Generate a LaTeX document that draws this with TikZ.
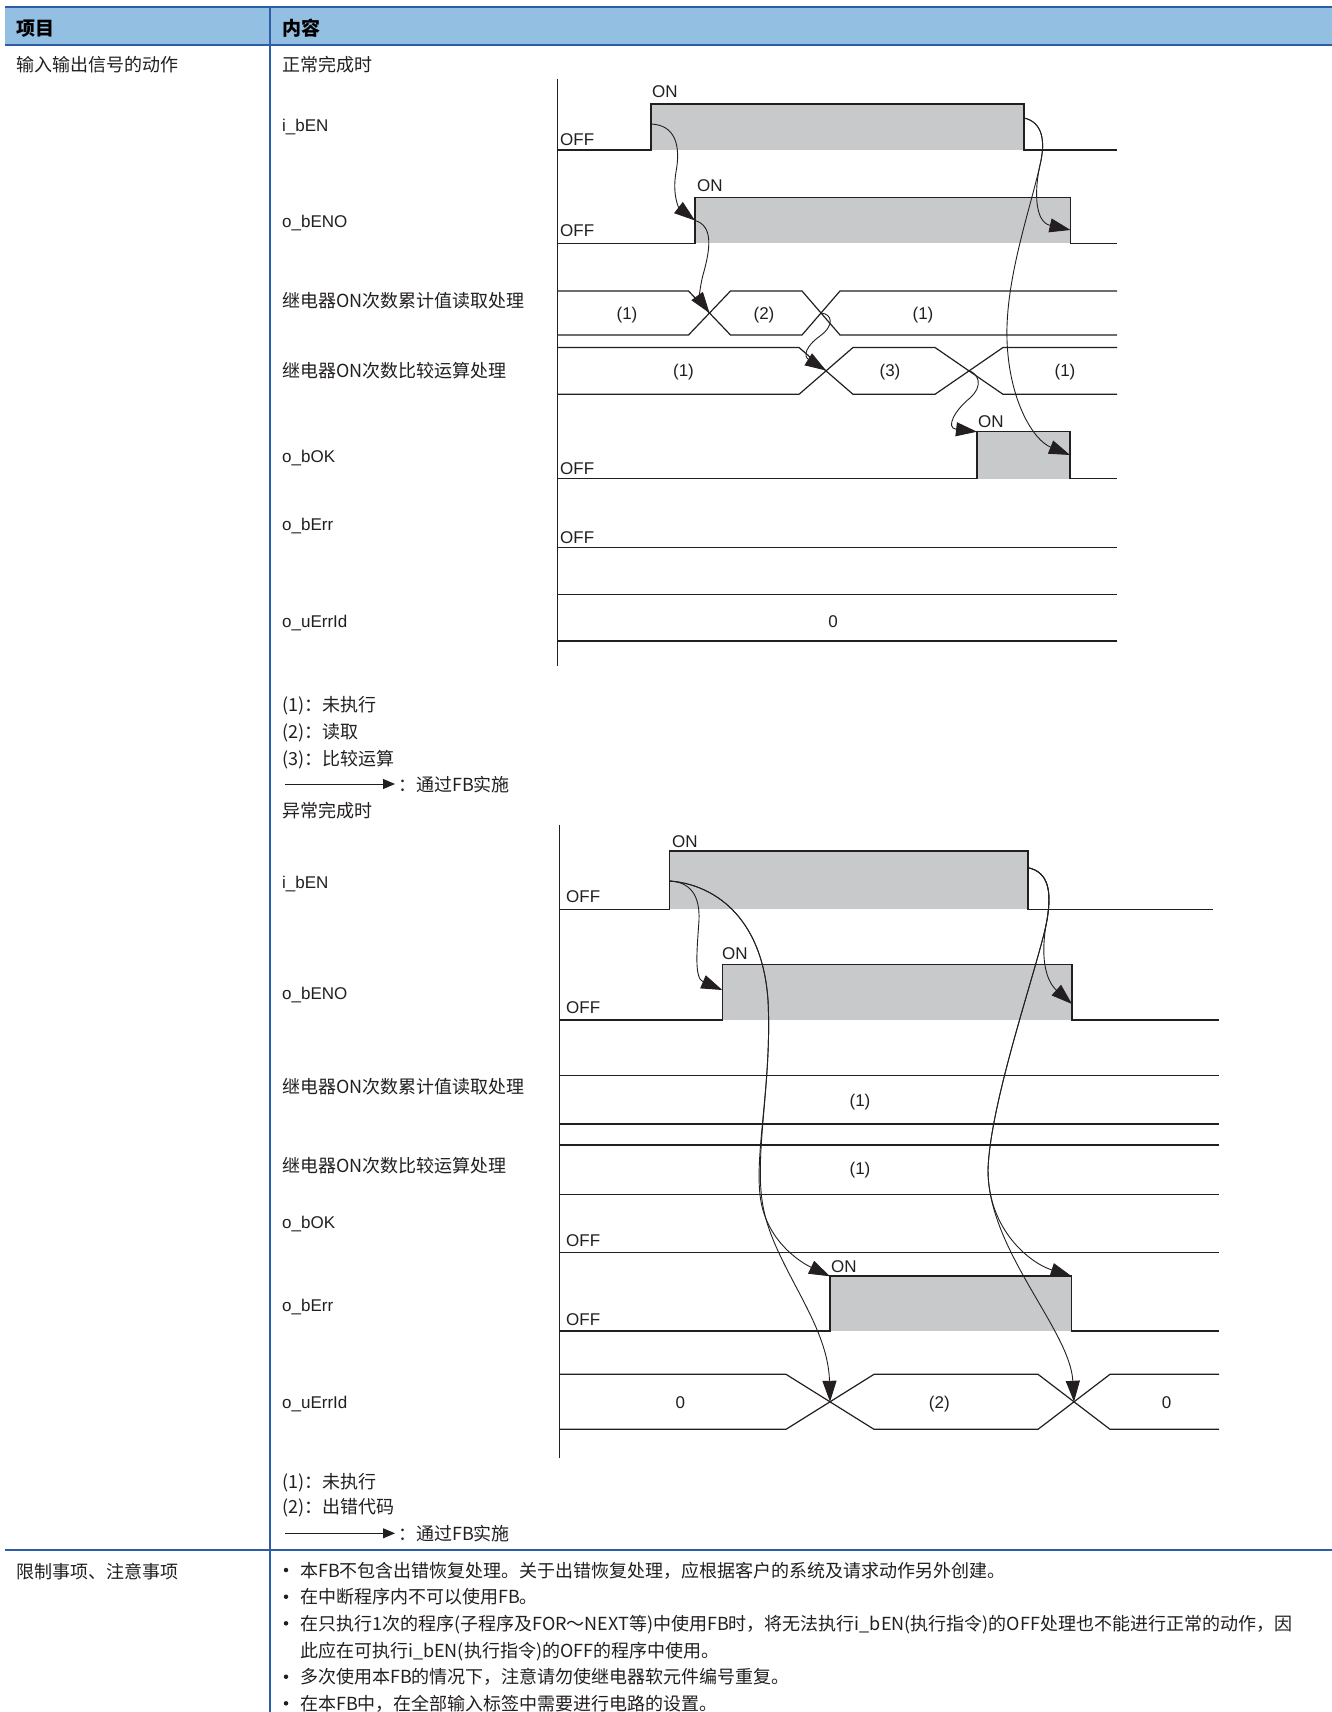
\documentclass[tikz,border=0pt]{standalone}
\usepackage{fontspec}
\setmainfont{Liberation Sans}
\newfontfamily\cjk{Noto Sans CJK SC}
\usetikzlibrary{arrows.meta}
\definecolor{hdr}{RGB}{147,191,227}
\definecolor{bl}{RGB}{46,93,168}
\definecolor{sig}{RGB}{35,31,32}
\definecolor{hi}{RGB}{200,201,203}
\begin{document}
\begin{tikzpicture}[x=1pt,y=-1pt,
  lat/.style={anchor=base west, inner sep=0pt, text=sig, font=\fontsize{17}{17}\selectfont},
  latc/.style={anchor=base, inner sep=0pt, text=sig, font=\fontsize{17}{17}\selectfont},
  cj/.style={anchor=base west, inner sep=0pt, text=sig, font=\cjk\fontsize{18}{18}\selectfont},
  cjh/.style={anchor=base west, inner sep=0pt, text=black, font=\cjk\bfseries\fontsize{19}{19}\selectfont},
  bulletdot/.style={circle, fill=sig, inner sep=0pt, minimum size=4.5pt},
  sigline/.style={draw=sig, line width=1.4pt},
  busline/.style={draw=sig, line width=1.2pt},
  axisline/.style={draw=sig, line width=1pt},
  hifill/.style={fill=hi},
  fbarrow/.style={draw=sig, line width=0.9pt, -{Triangle[length=21pt,width=14pt]}},
  legarrow/.style={draw=sig, line width=1pt, -{Triangle[length=12pt,width=10pt]}},
  blueline/.style={draw=bl}
]
\path[use as bounding box, fill=white] (0,0) rectangle (1332,1712);

% ---------------- table frame ----------------
\fill[hdr] (5,7) rectangle (1332,45);
\draw[blueline, line width=1.5pt] (5,7) -- (1332,7);
\draw[blueline, line width=2.6pt] (5,45) -- (1332,45);
\draw[blueline, line width=2.6pt] (5,1550) -- (1332,1550);
\draw[blueline, line width=2pt] (270,7) -- (270,1712);

\node[cjh] (h1) at (16,36) {项目};
\node[cjh] (h2) at (282,36) {内容};
\node[cj] (r1) at (16,71.5) {输入输出信号的动作};
\node[cj] (n1) at (282,71.5) {正常完成时};

% ================= Diagram 1 =================
\coordinate (ax1t) at (557,79);
\coordinate (ax1b) at (557,666);
\draw[axisline] (ax1t) -- (ax1b);

\node[lat] (l1a) at (282,132) {i\_bEN};
\node[lat] (l1b) at (282,228) {o\_bENO};
\node[cj]  (l1c) at (282,307) {继电器ON次数累计值读取处理};
\node[cj]  (l1d) at (282,377) {继电器ON次数比较运算处理};
\node[lat] (l1e) at (282,462) {o\_bOK};
\node[lat] (l1f) at (282,530) {o\_bErr};
\node[lat] (l1g) at (282,627) {o\_uErrId};

% i_bEN
\fill[hifill] (651,104) rectangle (1024,150);
\draw[sigline] (557,150) -- (651,150) -- (651,104) -- (1024,104) -- (1024,150) -- (1117,150);
\node[lat] (off1a) at (560,146) {OFF};
\node[lat] (on1a) at (652,98) {ON};
% o_bENO
\fill[hifill] (695,197.5) rectangle (1070.5,243.5);
\draw[sigline] (557,243.5) -- (695,243.5) -- (695,197.5) -- (1070.5,197.5) -- (1070.5,243.5) -- (1117,243.5);
\node[lat] (off1b) at (560,237) {OFF};
\node[lat] (on1b) at (697,192) {ON};
% bus 1
\draw[busline] (557,291) -- (688.5,291) -- (730.5,335) -- (802,335) -- (840,291) -- (1117,291);
\draw[busline] (557,335) -- (688.5,335) -- (730.5,291) -- (802,291) -- (840,335) -- (1117,335);
\node[latc] (b1a) at (627,319) {(1)};
\node[latc] (b1b) at (764,319) {(2)};
\node[latc] (b1c) at (923,319) {(1)};
% bus 2
\draw[busline] (557,347.5) -- (799,347.5) -- (853,394.3) -- (935,394.3) -- (1003,347.5) -- (1117,347.5);
\draw[busline] (557,394.3) -- (799,394.3) -- (853,347.5) -- (935,347.5) -- (1003,394.3) -- (1117,394.3);
\node[latc] (b2a) at (683.5,376.5) {(1)};
\node[latc] (b2b) at (890,376.5) {(3)};
\node[latc] (b2c) at (1065,376.5) {(1)};
% o_bOK
\fill[hifill] (977,431.7) rectangle (1070,478.5);
\draw[sigline] (557,478.5) -- (977,478.5) -- (977,431.7) -- (1070,431.7) -- (1070,478.5) -- (1117,478.5);
\node[lat] (off1e) at (560,474) {OFF};
\node[lat] (on1e) at (978,427.5) {ON};
% o_bErr
\draw[sigline] (557,547.3) -- (1117,547.3);
\node[lat] (off1f) at (560,543.3) {OFF};
% o_uErrId
\draw[busline] (557,594.3) -- (1117,594.3);
\draw[busline] (557,641) -- (1117,641);
\node[latc] (b3a) at (833,627) {0};

% arrows diagram 1
\coordinate (p1) at (651,124);
\coordinate (p2) at (695,220.5);
\coordinate (p3) at (709.5,313);
\coordinate (p4) at (821,313);
\coordinate (p5) at (826,370.5);
\coordinate (p6) at (969,370.5);
\coordinate (p7) at (977,431.7);
\coordinate (p8) at (1024,118);
\coordinate (p9) at (1070.5,230);
\coordinate (p10) at (1070,455);
\draw[fbarrow] (p1) .. controls (675,125) and (681,145) .. (676,172) .. controls (672,195) and (679,208) .. (p2);
\draw[fbarrow] (p2) .. controls (714,226) and (710,250) .. (703,275) .. controls (699,290) and (700,300) .. (p3);
\draw[fbarrow] (p4) .. controls (832,314) and (835,325) .. (820,336) .. controls (806,346) and (803,356) .. (p5);
\draw[fbarrow] (p6) .. controls (978,374) and (984,385) .. (970,398) .. controls (955,410) and (945,428) .. (p7);
\draw[fbarrow] (p8) .. controls (1042,122) and (1046,140) .. (1040,165) .. controls (1034,192) and (1035,222) .. (p9);
\draw[fbarrow] (p8) .. controls (1042,122) and (1046,140) .. (1040,165) .. controls (1030,210) and (1005,280) .. (1007,340) .. controls (1009,400) and (1033,440) .. (p10);

% legend 1
\node[cj] (g1a) at (282,711) {(1)：未执行};
\node[cj] (g1b) at (282,738.5) {(2)：读取};
\node[cj] (g1c) at (282,765) {(3)：比较运算};
\coordinate (g1s) at (285,784);
\coordinate (g1e) at (395,784);
\draw[legarrow] (g1s) -- (g1e);
\node[cj] (g1d) at (398,791) {：通过FB实施};

\node[cj] (n2) at (282,817.5) {异常完成时};

% ================= Diagram 2 =================
\coordinate (ax2t) at (559,825);
\coordinate (ax2b) at (559,1458);
\draw[axisline] (ax2t) -- (ax2b);

\node[lat] (l2a) at (282,888) {i\_bEN};
\node[lat] (l2b) at (282,999.5) {o\_bENO};
\node[cj]  (l2c) at (282,1093) {继电器ON次数累计值读取处理};
\node[cj]  (l2d) at (282,1172) {继电器ON次数比较运算处理};
\node[lat] (l2e) at (282,1228) {o\_bOK};
\node[lat] (l2f) at (282,1311) {o\_bErr};
\node[lat] (l2g) at (282,1408) {o\_uErrId};

% i_bEN
\fill[hifill] (669.5,851) rectangle (1028,909.3);
\draw[sigline] (559,909.3) -- (669.5,909.3) -- (669.5,851) -- (1028,851) -- (1028,909.3) -- (1213,909.3);
\node[lat] (off2a) at (566,902) {OFF};
\node[lat] (on2a) at (672,847) {ON};
% o_bENO
\fill[hifill] (722.3,964.3) rectangle (1072,1020);
\draw[sigline] (559,1020) -- (722.3,1020) -- (722.3,964.3) -- (1072,964.3) -- (1072,1020) -- (1219,1020);
\node[lat] (off2b) at (566,1013) {OFF};
\node[lat] (on2b) at (722,959.5) {ON};
% buses
\draw[busline] (559,1075.3) -- (1219,1075.3);
\draw[busline] (559,1124) -- (1219,1124);
\node[latc] (c1a) at (860,1106) {(1)};
\draw[busline] (559,1145) -- (1219,1145);
\draw[busline] (559,1194.3) -- (1219,1194.3);
\node[latc] (c2a) at (860,1174.5) {(1)};
% o_bOK
\draw[sigline] (559,1252.3) -- (1219,1252.3);
\node[lat] (off2e) at (566,1246.5) {OFF};
% o_bErr
\fill[hifill] (830,1276) rectangle (1071.7,1331);
\draw[sigline] (559,1331) -- (830,1331) -- (830,1276) -- (1071.7,1276) -- (1071.7,1331) -- (1219,1331);
\node[lat] (off2f) at (566,1325) {OFF};
\node[lat] (on2f) at (831,1272) {ON};
% o_uErrId
\draw[busline] (559,1374.3) -- (786,1374.3) -- (874,1429.3) -- (1038,1429.3) -- (1110,1374.3) -- (1219,1374.3);
\draw[busline] (559,1429.3) -- (786,1429.3) -- (874,1374.3) -- (1038,1374.3) -- (1110,1429.3) -- (1219,1429.3);
\node[latc] (c3a) at (680.3,1408) {0};
\node[latc] (c3b) at (939.3,1408) {(2)};
\node[latc] (c3c) at (1166.7,1408) {0};

% arrows diagram 2
\coordinate (q1) at (669.5,881);
\coordinate (q2) at (722.3,990);
\coordinate (q3) at (830,1276.3);
\coordinate (q4) at (830,1401.8);
\coordinate (q5) at (1028,867.7);
\coordinate (q6) at (1072,1004);
\coordinate (q7) at (1071.7,1276.3);
\coordinate (q8) at (1074,1401.8);
\draw[fbarrow] (q1) .. controls (690,882) and (700,895) .. (699,920) .. controls (697,950) and (694,978) .. (q2);
\draw[fbarrow] (q1) .. controls (712,884) and (762,915) .. (768,1000) .. controls (772,1080) and (755,1150) .. (760,1195) .. controls (765,1240) and (800,1262) .. (q3);
\draw[fbarrow] (q1) .. controls (712,884) and (762,915) .. (768,1000) .. controls (772,1080) and (755,1150) .. (762,1200) .. controls (770,1262) and (828,1320) .. (q4);
\draw[fbarrow] (q5) .. controls (1048,872) and (1052,890) .. (1047,920) .. controls (1040,955) and (1045,980) .. (q6);
\draw[fbarrow] (q5) .. controls (1048,872) and (1052,890) .. (1047,920) .. controls (1040,960) and (990,1100) .. (988,1170) .. controls (988,1230) and (1030,1263) .. (q7);
\draw[fbarrow] (q5) .. controls (1048,872) and (1052,890) .. (1047,920) .. controls (1040,960) and (990,1100) .. (988,1170) .. controls (988,1250) and (1070,1330) .. (q8);

% legend 2
\node[cj] (g2a) at (282,1488) {(1)：未执行};
\node[cj] (g2b) at (282,1513.7) {(2)：出错代码};
\coordinate (g2s) at (285,1533.3);
\coordinate (g2e) at (395,1533.3);
\draw[legarrow] (g2s) -- (g2e);
\node[cj] (g2d) at (398,1540.3) {：通过FB实施};

% ================= Row 2 =================
\node[cj] (r2) at (16,1578) {限制事项、注意事项};
\foreach \yy/\nm in {1570/d1,1596.7/d2,1623.3/d3,1676.7/d5,1703.3/d6}{
  \node[bulletdot] (\nm) at (286,\yy) {};
}
\node[cj] (t1) at (300,1577) {本FB不包含出错恢复处理。关于出错恢复处理，应根据客户的系统及请求动作另外创建。};
\node[cj] (t2) at (300,1603.7) {在中断程序内不可以使用FB。};
\node[cj] (t3) at (300,1630.3) {在只执行1次的程序(子程序及FOR～NEXT等)中使用FB时，将无法执行i\_bEN(执行指令)的OFF处理也不能进行正常的动作，因};
\node[cj] (t4) at (300,1657) {此应在可执行i\_bEN(执行指令)的OFF的程序中使用。};
\node[cj] (t5) at (300,1683.7) {多次使用本FB的情况下，注意请勿使继电器软元件编号重复。};
\node[cj] (t6) at (300,1710.3) {在本FB中，在全部输入标签中需要进行电路的设置。};
\end{tikzpicture}
\end{document}
